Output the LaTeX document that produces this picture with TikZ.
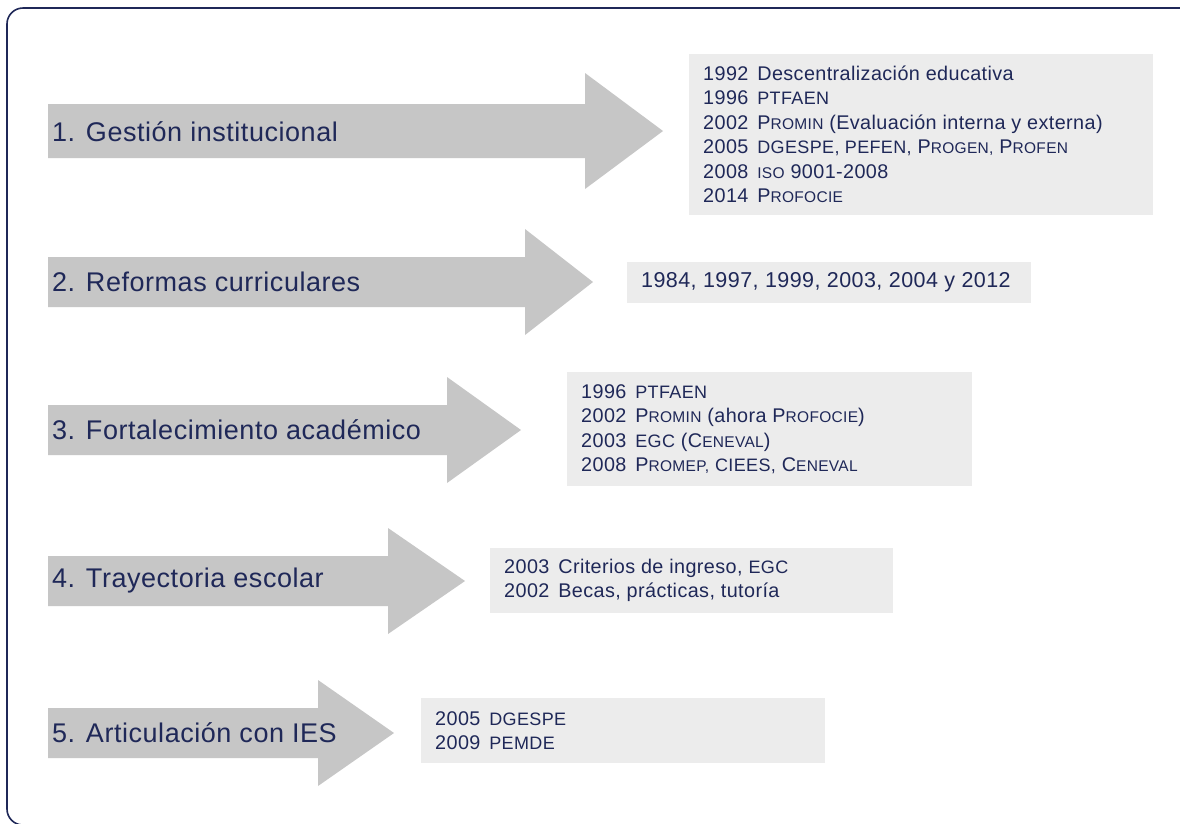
\documentclass[tikz,border=0pt]{standalone}
\usepackage{fontspec}
\setmainfont{Liberation Sans}[LetterSpace=2]
\definecolor{navy}{HTML}{1F2858}
\definecolor{arrowgray}{HTML}{C6C6C6}
\definecolor{boxgray}{HTML}{ECECEC}
\newcommand{\smc}[1]{{\fontsize{15.5}{24.5}\selectfont #1}}
\newcommand{\acr}[1]{{\fontsize{18}{24.5}\selectfont #1}}
\newcommand{\yr}[1]{#1\hspace{0.45em}}
\tikzset{
  arrowfill/.style={fill=arrowgray},
  boxfill/.style={fill=boxgray},
  lab/.style={anchor=west, inner sep=0pt, text=navy, font=\fontsize{27}{30}\selectfont},
  boxtext/.style={anchor=west, inner sep=0pt, text=navy, align=left, font=\fontsize{19.8}{24.5}\selectfont},
  frame/.style={draw=navy, line width=1.6pt, rounded corners=16pt}
}
% #1 centre y, #2 head base x, #3 tip x, #4 body half height, #5 head half height
\newcommand{\bigarrow}[5]{%
  \fill[arrowfill] (48,{#1-#4}) -- (#2,{#1-#4}) -- (#2,{#1-#5}) -- (#3,#1)
    -- (#2,{#1+#5}) -- (#2,{#1+#4}) -- (48,{#1+#4}) -- cycle;}
\begin{document}
\begin{tikzpicture}[x=1pt,y=-1pt]
\useasboundingbox (0,0) rectangle (1180,823);
\fill[white] (0,0) rectangle (1180,823);
\begin{scope}
\clip (0,0) rectangle (1180,823);
\draw[frame] (1200,8) -- (7,8) -- (7,825) -- (1200,825);
\end{scope}

% arrows
\bigarrow{131}{585}{663}{27}{58}
\bigarrow{282}{525}{593}{25}{53}
\bigarrow{430}{447}{521}{25}{53}
\bigarrow{581}{388}{465}{25}{53}
\bigarrow{733}{318}{394}{25}{53}

\node[lab] (l1) at (52,132) {1. Gestión institucional};
\node[lab] (l2) at (52,282) {2. Reformas curriculares};
\node[lab] (l3) at (52,430) {3. Fortalecimiento académico};
\node[lab] (l4) at (52,581) {4. Trayectoria escolar};
\node[lab] (l5) at (52,733) {5. Articulación con IES};

% boxes
\fill[boxfill] (689,54) rectangle (1153,215);
\fill[boxfill] (627,262) rectangle (1031,303);
\fill[boxfill] (567,372) rectangle (972,486);
\fill[boxfill] (490,548) rectangle (893,613);
\fill[boxfill] (421,698) rectangle (825,763);

\node[boxtext] (t1) at (703,134.5) {\yr{1992}Descentralización educativa\\
\yr{1996}\acr{PTFAEN}\\
\yr{2002}P\smc{ROMIN} (Evaluación interna y externa)\\
\yr{2005}\acr{DGESPE, PEFEN,} P\smc{ROGEN,} P\smc{ROFEN}\\
\yr{2008}\smc{ISO} 9001-2008\\
\yr{2014}P\smc{ROFOCIE}};
\node[boxtext, font=\fontsize{21.5}{24.5}\selectfont] (t2) at (641,282.5) {1984, 1997, 1999, 2003, 2004 y 2012};
\node[boxtext] (t3) at (581,429) {\yr{1996}\acr{PTFAEN}\\
\yr{2002}P\smc{ROMIN} (ahora P\smc{ROFOCIE})\\
\yr{2003}\acr{EGC} (C\smc{ENEVAL})\\
\yr{2008}P\smc{ROMEP,} \acr{CIEES,} C\smc{ENEVAL}};
\node[boxtext] (t4) at (504,580.5) {\yr{2003}Criterios de ingreso, \acr{EGC}\\
\yr{2002}Becas, prácticas, tutoría};
\node[boxtext] (t5) at (435,730.5) {\yr{2005}\acr{DGESPE}\\
\yr{2009}\acr{PEMDE}};
\end{tikzpicture}
\end{document}
